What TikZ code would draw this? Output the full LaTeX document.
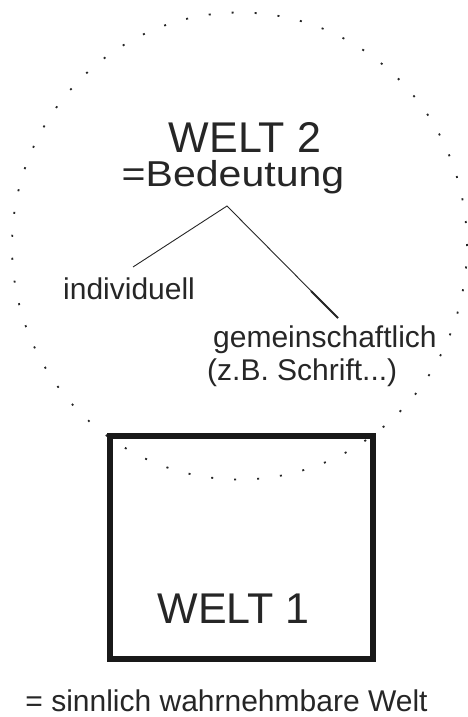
\documentclass[tikz,border=0pt]{standalone}
\usepackage{fontspec}
\setmainfont{Liberation Sans}
\begin{document}
\begin{tikzpicture}[x=1pt,y=-1pt,
  txt/.style={inner sep=0pt, anchor=base, text=black!85},
  big/.style={txt, font=\fontsize{43}{43}\selectfont},
  small/.style={txt, font=\fontsize{30}{30}\selectfont},
  dotline/.style={line width=1.8pt, dash pattern=on 2pt off 21pt, black!85},
  thin/.style={line width=0.9pt, black!85},
  boxline/.style={line width=6pt, black!90}]
\useasboundingbox (0,0) rectangle (468,717);
% Welt 2 (dotted ellipse)
\draw[dotline] (239.5,246) ellipse [x radius=227.5pt, y radius=233.5pt];
% Welt 1 box
\draw[boxline] (110,436) rectangle (373,659);
% texts
\node[big] (w2) at (245,152) {WELT 2};
\node[txt, font=\fontsize{36}{36}\selectfont] (bed) at (233,186) {\scalebox{1.14}[1]{=Bedeutung}};
\node[small, anchor=base west] (ind) at (63,299) {individuell};
\node[small, anchor=base west] (gem) at (213,347) {gemeinschaftlich};
\node[small, anchor=base west] (zb) at (207,380) {(z.B. Schrift...)};
\node[big] (w1) at (233.5,623) {WELT 1};
\node[small] (sin) at (226.5,711) {= sinnlich wahrnehmbare Welt};
% connectors
\coordinate (apex) at (227,206);
\coordinate (indEnd) at (133,267);
\coordinate (gemMid) at (311,291);
\coordinate (gemEnd) at (338,318);
\draw[thin] (indEnd) -- (apex) -- (gemEnd);
\draw[line width=2pt, black!85] (gemMid) -- (gemEnd);
\end{tikzpicture}
\end{document}
